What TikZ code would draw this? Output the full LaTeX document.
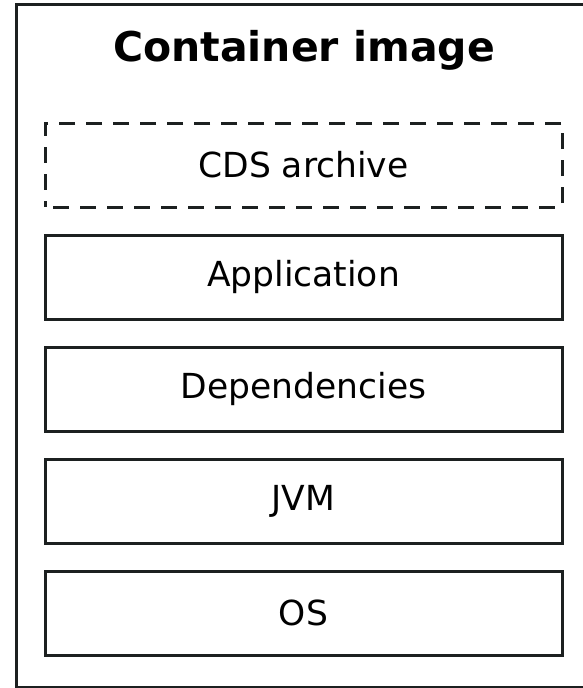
\documentclass[tikz,border=0pt]{standalone}
\usepackage{fontspec}
\setmainfont{DejaVu Sans}
\definecolor{ink}{HTML}{1C2020}
\begin{document}
\begin{tikzpicture}[x=1pt,y=-1pt,
  layer/.style={draw=ink,line width=3pt,minimum width=517pt,minimum height=84pt,inner sep=0pt,
    font=\fontsize{34.5}{40}\selectfont,text=black},
  dashlayer/.style={layer,dash pattern=on 16pt off 11pt,dash phase=-8pt}]
\useasboundingbox (0,0) rectangle (583,688);
\clip (0,0) rectangle (583,688);
\draw[ink,line width=3pt] (16,4) rectangle (620,687);
\node[anchor=base,font=\bfseries\fontsize{41}{46}\selectfont] (title) at (304,61) {Container image};
\node[dashlayer] (cds) at (303.5,165) {CDS archive};
\node[layer] (app) at (303.5,277) {Application};
\node[layer] (dep) at (303.5,389) {Dependencies};
\node[layer] (jvm) at (303.5,501) {JVM};
\node[layer] (os) at (303.5,613) {OS};
\end{tikzpicture}
\end{document}
